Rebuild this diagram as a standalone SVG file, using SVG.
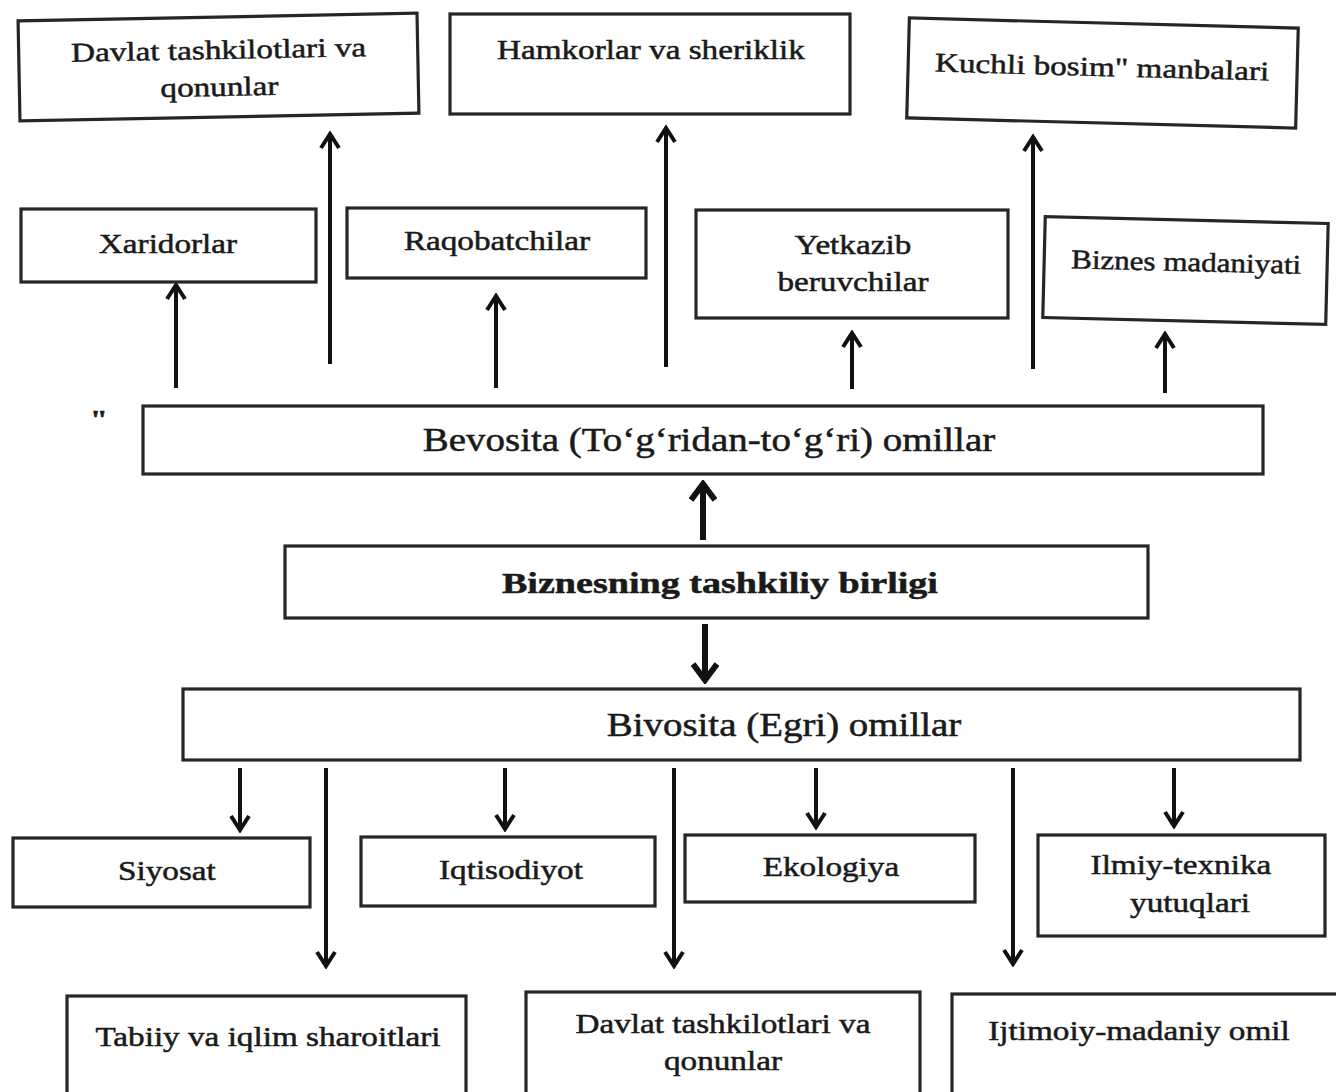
<svg xmlns="http://www.w3.org/2000/svg" width="1336" height="1092" viewBox="0 0 1336 1092">
  <style>
    .box { fill: #ffffff; stroke: #262626; stroke-width: 3.2; }
    .t { font-family: "Liberation Serif", "Times New Roman", serif; font-size: 27px; fill: #1a1a1a; stroke: #1a1a1a; stroke-width: 0.5; text-anchor: middle;
         transform-box: fill-box; transform-origin: center; transform: scaleX(1.23); }
    .big { font-size: 33px; transform: scaleX(1.18); }
    .mid { transform: scaleX(1.15); }
    .bold { font-weight: bold; font-size: 30px; transform: scaleX(1.27); }
    .ln { stroke: #111; stroke-width: 4; fill: none; }
    .thick { stroke-width: 6; }
  </style>
  <defs>
    <marker id="head" markerUnits="userSpaceOnUse" viewBox="0 0 20 22" markerWidth="20" markerHeight="22" refX="17" refY="11" orient="auto">
      <path d="M3,2 L17,11 L3,20" fill="none" stroke="#111" stroke-width="4" stroke-linejoin="miter"/>
    </marker>
    <marker id="headBig" markerUnits="userSpaceOnUse" viewBox="0 0 24 28" markerWidth="24" markerHeight="28" refX="20" refY="14" orient="auto">
      <path d="M4,2 L20,14 L4,26" fill="none" stroke="#111" stroke-width="6" stroke-linejoin="miter"/>
    </marker>
  </defs>
  <rect width="1336" height="1092" fill="#ffffff"/>

  <!-- connectors -->
  <g id="connectors">
    <!-- upward from Bevosita -->
    <line class="ln" x1="176" y1="388" x2="176" y2="285" marker-end="url(#head)"/>
    <line class="ln" x1="330" y1="364" x2="330" y2="134" marker-end="url(#head)"/>
    <line class="ln" x1="496" y1="388" x2="496" y2="296" marker-end="url(#head)"/>
    <line class="ln" x1="666" y1="367" x2="666" y2="128" marker-end="url(#head)"/>
    <line class="ln" x1="852" y1="389" x2="852" y2="333" marker-end="url(#head)"/>
    <line class="ln" x1="1033" y1="369" x2="1033" y2="137" marker-end="url(#head)"/>
    <line class="ln" x1="1165" y1="393" x2="1165" y2="334" marker-end="url(#head)"/>
    <!-- centre -->
    <line class="ln thick" x1="703" y1="540" x2="703" y2="484" marker-end="url(#headBig)"/>
    <line class="ln thick" x1="705" y1="624" x2="705" y2="680" marker-end="url(#headBig)"/>
    <!-- downward from Bivosita -->
    <line class="ln" x1="240" y1="768" x2="240" y2="830" marker-end="url(#head)"/>
    <line class="ln" x1="326" y1="768" x2="326" y2="966" marker-end="url(#head)"/>
    <line class="ln" x1="505" y1="768" x2="505" y2="829" marker-end="url(#head)"/>
    <line class="ln" x1="674" y1="768" x2="674" y2="966" marker-end="url(#head)"/>
    <line class="ln" x1="816" y1="768" x2="816" y2="827" marker-end="url(#head)"/>
    <line class="ln" x1="1013" y1="768" x2="1013" y2="964" marker-end="url(#head)"/>
    <line class="ln" x1="1174" y1="768" x2="1174" y2="826" marker-end="url(#head)"/>
  </g>

  <!-- top row -->
  <g id="davlat-top" transform="rotate(-1.1 219 67)">
    <rect class="box" x="19" y="17" width="399" height="100"/>
    <text class="t" x="219" y="59">Davlat tashkilotlari va</text>
    <text class="t" x="219" y="96">qonunlar</text>
  </g>
  <g id="hamkorlar">
    <rect class="box" x="450" y="14" width="400" height="100"/>
    <text class="t" x="651" y="59">Hamkorlar va sheriklik</text>
  </g>
  <g id="kuchli" transform="rotate(1.5 1102 73)">
    <rect class="box" x="908" y="23" width="389" height="100"/>
    <text class="t" x="1102" y="76">Kuchli bosim" manbalari</text>
  </g>

  <!-- second row -->
  <g id="xaridorlar">
    <rect class="box" x="21" y="209" width="295" height="73"/>
    <text class="t" x="168" y="253">Xaridorlar</text>
  </g>
  <g id="raqobatchilar">
    <rect class="box" x="347" y="208" width="299" height="70"/>
    <text class="t" x="497" y="250">Raqobatchilar</text>
  </g>
  <g id="yetkazib">
    <rect class="box" x="696" y="210" width="312" height="108"/>
    <text class="t" x="853" y="254">Yetkazib</text>
    <text class="t" x="853" y="291">beruvchilar</text>
  </g>
  <g id="biznes-madaniyati" transform="rotate(1.4 1185 270)">
    <rect class="box" x="1044" y="220" width="283" height="101"/>
    <text class="t mid" x="1186" y="271">Biznes madaniyati</text>
  </g>

  <!-- Bevosita -->
  <g id="bevosita">
    <text class="t" x="99" y="428" style="font-size:26px; font-weight:bold">"</text>
    <rect class="box" x="143" y="406" width="1120" height="68"/>
    <text class="t big" x="709" y="451">Bevosita (To‘g‘ridan-to‘g‘ri) omillar</text>
  </g>

  <!-- Biznesning -->
  <g id="biznesning">
    <rect class="box" x="285" y="546" width="863" height="72"/>
    <text class="t bold" x="720" y="593">Biznesning tashkiliy birligi</text>
  </g>

  <!-- Bivosita -->
  <g id="bivosita">
    <rect class="box" x="183" y="689" width="1117" height="71"/>
    <text class="t big" x="784" y="736">Bivosita (Egri) omillar</text>
  </g>

  <!-- third row -->
  <g id="siyosat">
    <rect class="box" x="13" y="838" width="297" height="69"/>
    <text class="t" x="167" y="880">Siyosat</text>
  </g>
  <g id="iqtisodiyot">
    <rect class="box" x="361" y="837" width="294" height="69"/>
    <text class="t" x="511" y="879">Iqtisodiyot</text>
  </g>
  <g id="ekologiya">
    <rect class="box" x="685" y="835" width="290" height="67"/>
    <text class="t" x="831" y="876">Ekologiya</text>
  </g>
  <g id="ilmiy">
    <rect class="box" x="1038" y="835" width="287" height="101"/>
    <text class="t" x="1181" y="874">Ilmiy-texnika</text>
    <text class="t" x="1190" y="912">yutuqlari</text>
  </g>

  <!-- bottom row -->
  <g id="tabiiy">
    <rect class="box" x="67" y="996" width="399" height="110"/>
    <text class="t" x="268" y="1046">Tabiiy va iqlim sharoitlari</text>
  </g>
  <g id="davlat-bottom">
    <rect class="box" x="526" y="992" width="394" height="110"/>
    <text class="t" x="723" y="1033">Davlat tashkilotlari va</text>
    <text class="t" x="723" y="1070">qonunlar</text>
  </g>
  <g id="ijtimoiy">
    <rect class="box" x="952" y="994" width="400" height="110"/>
    <text class="t" x="1139" y="1040">Ijtimoiy-madaniy omil</text>
  </g>
</svg>
